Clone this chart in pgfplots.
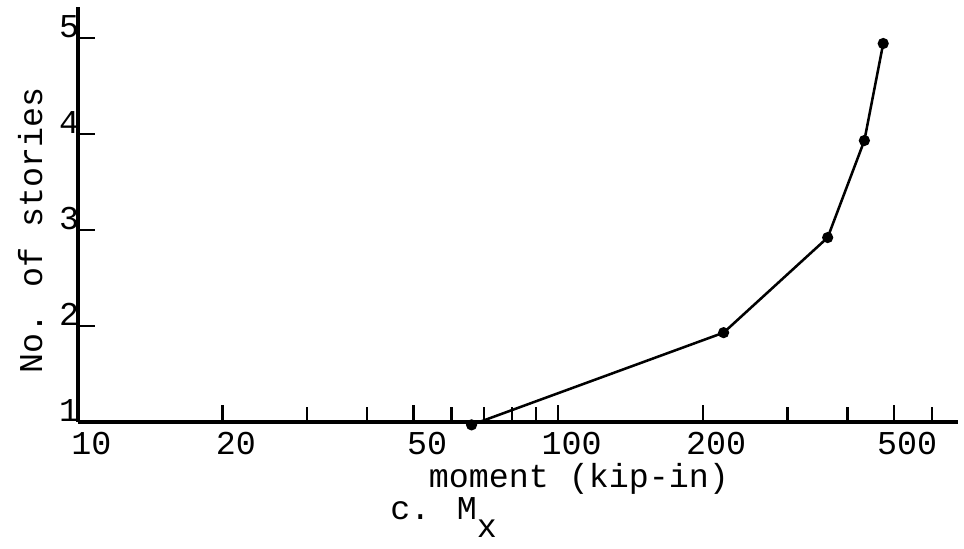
\documentclass[border=0pt]{standalone}
\usepackage{fontspec}
\setmainfont{Liberation Mono}
\usepackage{pgfplots}
\pgfplotsset{compat=1.18}
\pgfplotsset{every tick/.append style={line width=1.8pt, black},
  every major tick/.append style={line width=1.8pt, black},
  every minor tick/.append style={line width=1.8pt, black}}
\begin{document}
\fontsize{25}{30}\selectfont
\begin{tikzpicture}[font=\fontsize{25}{30}\selectfont]
\useasboundingbox (-58.5pt,-95.25pt) rectangle (664.5pt,316.5pt);
\begin{axis}[
  scale only axis, width=660pt, height=311.25pt,
  xmode=log, xmin=10, xmax=680, ymin=1, ymax=5.32,
  axis lines=left, axis line style={-, line width=2.4pt},
  xtick={10,20,50,100,200,500}, xticklabels={10,20,50,100,200,500},
  minor xtick={30,40,60,70,80,90,300,400,600},
  ytick={1,2,3,4,5}, yticklabels={1,2,3,4,5},
  tick align=inside,
  major tick length=13pt, minor tick length=11pt,
  xtick style={black, line width=1.8pt},
  ytick style={black, line width=1.8pt},
  clip=false,
  xticklabel style={anchor=base, yshift=-24.75pt, xshift=10pt, inner sep=0pt},
  yticklabel style={anchor=base east, inner sep=0pt, xshift=1pt},
  xlabel={moment (kip-in)},
  xlabel style={at={(axis description cs:0.5693,0)}, anchor=base, yshift=-49.5pt, inner sep=0pt},
  ylabel={No. of stories},
  ylabel style={at={(axis description cs:-0.0409,0.4614)}, anchor=base, inner sep=0pt},
]
\addplot[black, line width=1.9pt, mark=*, mark size=3.2pt] coordinates {(66,0.97) (221,1.93) (364,2.92) (434,3.93) (475,4.94)};
\end{axis}
\node[anchor=base west, inner sep=0pt] at (234pt,-73.5pt) {c. M\raisebox{-13.5pt}{x}};
\end{tikzpicture}
\end{document}
